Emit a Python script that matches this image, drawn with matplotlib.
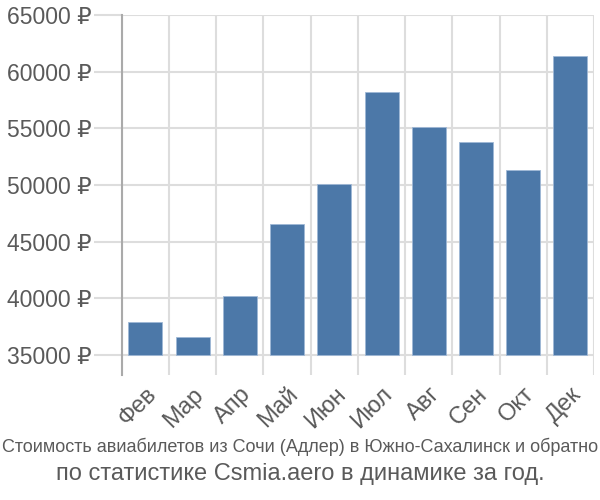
import matplotlib
matplotlib.use("Agg")
import matplotlib.pyplot as plt
from matplotlib.ticker import FixedLocator, FuncFormatter

plt.rcParams['font.family'] = ['Liberation Sans', 'DejaVu Sans']

months = ["Фев", "Мар", "Апр", "Май", "Июн", "Июл", "Авг", "Сен", "Окт", "Дек"]
prices = [37890, 36560, 40200, 46600, 50060, 58180, 55090, 53820, 51320, 61350]
yticks = [35000, 40000, 45000, 50000, 55000, 60000, 65000]
title1 = "Стоимость авиабилетов из Сочи (Адлер) в Южно-Сахалинск и обратно"
title2 = "по статистике Csmia.aero в динамике за год."

text_color = "#5a5a5a"
grid_color = "#dddddd"
bar_color = "#4c78a8"

fig = plt.figure(figsize=(6, 5), dpi=100)
ax = fig.add_axes([0.203, 0.25, 0.787, 0.72])

x = list(range(len(months)))
base = yticks[0]
ax.bar(x, [p - base for p in prices], bottom=base, width=0.72, color=bar_color,
       edgecolor="#9fb8d6", linewidth=0.6, zorder=3)

ax.set_xlim(-0.5, len(months) - 0.5)
ax.set_ylim(33240, 65000)

ax.set_yticks(yticks)
ax.yaxis.set_major_formatter(FuncFormatter(lambda v, p: f"{int(v)} ₽"))
ax.tick_params(axis="y", length=20, width=1.5, color=grid_color, labelsize=16.5,
               labelcolor=text_color, pad=2)
ax.yaxis.grid(True, color=grid_color, linewidth=1.5, zorder=0)

ax.set_xticks(x)
ax.set_xticklabels(months, rotation=45, ha="right", va="top", rotation_mode="anchor")
ax.tick_params(axis="x", which="major", length=0, labelsize=17, labelcolor=text_color, pad=6)
ax.xaxis.set_minor_locator(FixedLocator([i - 0.5 for i in range(len(months) + 1)]))
ax.tick_params(axis="x", which="minor", length=0)
ax.xaxis.grid(True, which="minor", color=grid_color, linewidth=1.5, zorder=0)
ax.xaxis.grid(False, which="major")

for s in ["top", "right", "bottom"]:
    ax.spines[s].set_visible(False)
ax.spines["left"].set_color("#aaaaaa")
ax.spines["left"].set_linewidth(1.5)
ax.spines["left"].set_zorder(4)

fig.text(0.5, 0.106, title1, ha="center", va="center", fontsize=13,
         color=text_color)
fig.text(0.5, 0.052, title2, ha="center", va="center", fontsize=17, color=text_color)

fig.savefig("out.png", dpi=100)
